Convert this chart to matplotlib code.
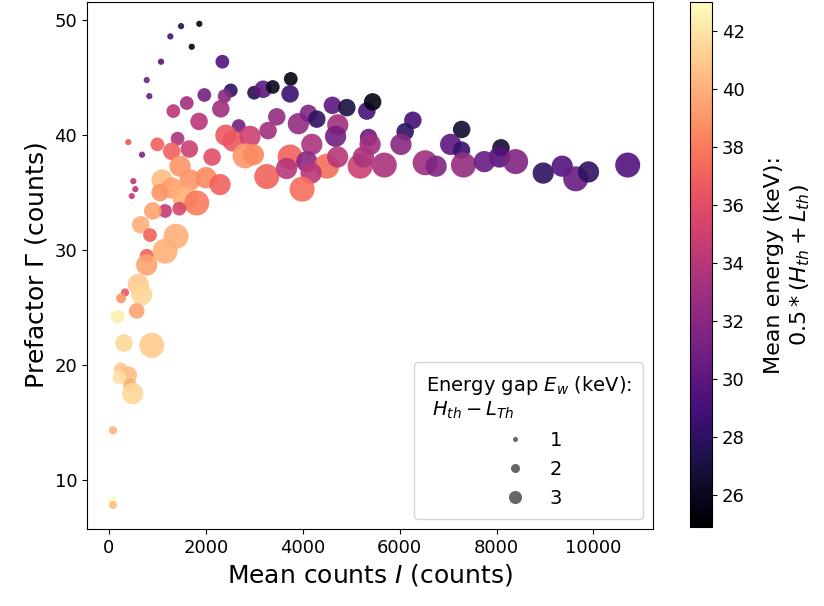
import matplotlib
matplotlib.use("Agg")
from matplotlib import pyplot as plt
from matplotlib import cm, colors
from matplotlib.lines import Line2D
import numpy as np

# mean counts I
mean_counts = [
    1867, 1490, 1269, 1711, 1077, 2343, 782, 836, 2516, 2388,
    2997, 3183, 3383, 1971, 1608, 1331, 2310, 1862, 2681, 3465,
    3286, 3754, 3740, 3911, 4118, 4291, 4613, 4910, 5323, 5443,
    4724, 4679, 5360, 5391, 4188, 6273, 6114, 6027, 7280, 7053,
    7276, 8091, 8058, 402, 1418, 1001, 685, 1298, 1661, 2130,
    2415, 2563, 2914, 2811, 2983, 3740, 4085, 4497, 4720, 5185,
    5253, 5684, 6526, 6753, 7317, 7748, 8394, 8962, 9354, 9633,
    9897, 10706, 3259, 3668, 4173, 3988, 1470, 1098, 506, 547,
    473, 1676, 2006, 2295, 1298, 1573, 1814, 1057, 1160, 1453,
    906, 658, 850, 1387, 1160, 782, 782, 609, 679, 334,
    252, 576, 184, 314, 886, 246, 402, 217, 438, 493,
    87, 72, 87,
]
# prefactor Gamma
prefactor = [
    49.7, 49.5, 48.6, 47.7, 46.4, 46.4, 44.8, 43.4, 43.9, 43.4,
    43.7, 44.0, 44.2, 43.5, 42.8, 42.1, 42.3, 41.2, 40.8, 41.6,
    40.4, 44.9, 43.6, 41.0, 41.9, 41.4, 42.6, 42.4, 42.1, 42.9,
    40.9, 39.9, 39.8, 39.2, 39.2, 41.3, 40.3, 39.2, 40.5, 39.2,
    38.7, 38.9, 38.1, 39.4, 39.7, 39.2, 38.3, 38.6, 38.8, 38.1,
    40.0, 39.5, 39.9, 38.2, 38.3, 38.1, 37.7, 37.3, 38.1, 37.3,
    38.1, 37.4, 37.6, 37.3, 37.4, 37.7, 37.7, 36.7, 37.3, 36.2,
    36.8, 37.4, 36.4, 37.1, 36.7, 35.3, 37.3, 36.1, 36.0, 35.3,
    34.7, 36.1, 36.3, 35.7, 35.4, 34.5, 34.1, 35.0, 33.4, 33.6,
    33.4, 32.2, 31.3, 31.2, 29.9, 29.5, 28.7, 27.0, 26.1, 26.3,
    25.8, 24.7, 24.2, 21.9, 21.7, 19.6, 19.1, 18.9, 18.2, 17.5,
    14.3, 8.2, 7.8,
]
# mean energy 0.5*(H_th + L_th), keV
mean_energy = [
    25.5, 27.5, 29.0, 25.5, 29.5, 29.5, 31.0, 30.5, 28.0, 32.0,
    27.5, 30.0, 26.0, 31.0, 33.0, 34.0, 33.0, 34.0, 31.0, 32.5,
    33.0, 25.5, 28.5, 32.5, 31.5, 28.0, 30.0, 27.0, 29.0, 25.5,
    33.0, 31.0, 30.5, 33.0, 33.5, 29.0, 28.0, 32.0, 26.5, 30.0,
    28.5, 26.5, 29.5, 36.5, 33.5, 37.0, 31.5, 37.0, 35.0, 36.0,
    36.5, 36.5, 35.0, 39.0, 38.5, 37.0, 32.0, 37.5, 34.0, 35.0,
    33.5, 33.5, 33.0, 31.5, 32.5, 30.5, 31.5, 28.0, 29.5, 30.5,
    28.0, 29.5, 37.0, 34.0, 34.0, 37.5, 39.0, 40.5, 34.0, 34.0,
    34.5, 39.0, 38.5, 37.0, 39.5, 40.0, 38.0, 39.0, 34.5, 35.5,
    39.5, 40.0, 37.0, 40.0, 40.0, 37.0, 39.5, 41.0, 41.5, 36.5,
    39.0, 39.5, 42.5, 41.5, 41.0, 41.0, 40.5, 42.0, 40.0, 41.5,
    40.0, 43.0, 40.5,
]
# energy gap H_th - L_th, keV
energy_gap = [
    1, 1, 1, 1, 1, 3, 1, 1, 3, 3,
    3, 4, 3, 3, 3, 3, 4, 4, 3, 4,
    4, 3, 4, 5, 4, 4, 4, 4, 4, 4,
    5, 5, 4, 5, 5, 4, 4, 5, 4, 5,
    4, 4, 5, 1, 3, 3, 1, 4, 4, 4,
    5, 5, 5, 6, 5, 6, 5, 6, 5, 6,
    5, 6, 6, 5, 6, 5, 6, 5, 5, 6,
    5, 6, 6, 5, 5, 6, 5, 5, 1, 1,
    1, 5, 5, 5, 5, 6, 6, 4, 3, 3,
    4, 4, 3, 6, 6, 3, 5, 5, 5, 1.5,
    2, 3.5, 3, 4, 6, 3, 4, 3, 3, 5,
    1.5, 1.5, 1.5,
]
legend_gaps = [1, 2, 3]

gap = np.array(energy_gap)
sizes = (2.7 * gap + 1.8) ** 2

fig = plt.figure(figsize=(8.24, 6.06), dpi=100)
ax = fig.add_axes([0.1056, 0.127, 0.687, 0.8697])
cax = fig.add_axes([0.8374, 0.13, 0.027, 0.8667])

norm = colors.Normalize(vmin=24.9, vmax=43)
sc = ax.scatter(mean_counts, prefactor, c=mean_energy, s=sizes, cmap="magma",
                norm=norm, alpha=0.9, linewidths=0)
ax.set_xlim(-450, 11230)
ax.set_ylim(5.7, 51.6)
ax.set_xlabel("Mean counts $I$ (counts)", fontsize=18)
ax.set_ylabel(r"Prefactor $\Gamma$ (counts)", fontsize=18)
ax.tick_params(labelsize=13)

handles = [
    Line2D([], [], ls="", marker="o", color="k", alpha=0.6,
           markersize=2.9 * g + 0.7, markeredgewidth=0)
    for g in legend_gaps
]
ax.legend(handles, [str(g) for g in legend_gaps], loc="lower right",
          fontsize=14, title_fontsize=14, borderpad=0.6,
          title="Energy gap $E_w$ (keV):\n $H_{th} - L_{Th}$")

cb = fig.colorbar(cm.ScalarMappable(norm=norm, cmap="magma"), cax=cax)
cb.set_ticks(np.arange(26, 43, 2))
cb.ax.tick_params(labelsize=13)
cb.set_label("Mean energy (keV):\n$0.5 * (H_{th} + L_{th})$", fontsize=16,
             labelpad=14)

fig.savefig("out.png", dpi=100)
